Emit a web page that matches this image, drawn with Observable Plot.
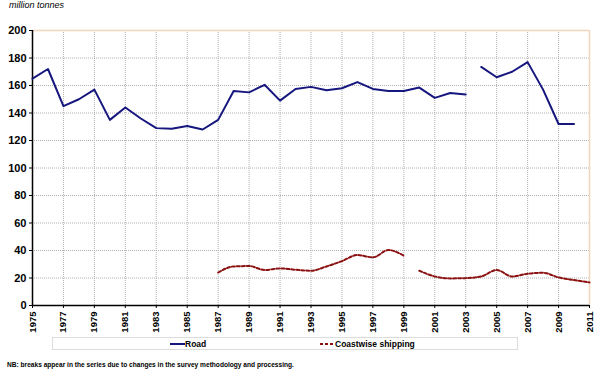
<!DOCTYPE html>
<html>
<head>
<meta charset="utf-8">
<script src="https://cdn.jsdelivr.net/npm/d3@7"></script>
<script src="https://cdn.jsdelivr.net/npm/@observablehq/plot@0.6"></script>
<style>
  html, body { margin: 0; padding: 0; background: #fff; }
  #wrap { position: relative; width: 602px; height: 379px; font-family: "Liberation Sans", Arial, sans-serif; overflow: hidden; }
  #wrap > svg { position: absolute; left: 0; top: 0; }
  .title { position: absolute; left: 9px; top: 0px; font-size: 9px; font-style: italic; color: #000; }
  .legend { position: absolute; left: 52px; top: 337px; width: 464px; height: 11px; border: 1px solid #dcdcdc; }
  .item { position: absolute; top: 0; height: 11px; display: flex; align-items: center; font-size: 8.5px; font-weight: bold; }
  .item svg { display: block; }
  .note { position: absolute; left: 7px; top: 361px; font-size: 6.6px; font-weight: bold; color: #000; white-space: nowrap; }
</style>
</head>
<body>
<div id="wrap">
  <div class="title">million tonnes</div>
  <div class="legend">
    <div class="item" style="left:117px"><svg width="15" height="4"><line x1="0" y1="2" x2="15" y2="2" stroke="#16167f" stroke-width="2"/></svg><span>Road</span></div>
    <div class="item" style="left:267px"><svg width="15" height="4"><line x1="0" y1="2" x2="15" y2="2" stroke="#8b1010" stroke-width="2" stroke-dasharray="3,2"/></svg><span>Coastwise shipping</span></div>
  </div>
  <div class="note">NB: breaks appear in the series due to changes in the survey methodology and processing.</div>
</div>
<script>
const roadYears = [1975,1976,1977,1978,1979,1980,1981,1982,1983,1984,1985,1986,1987,1988,1989,1990,1991,1992,1993,1994,1995,1996,1997,1998,1999,2000,2001,2002,2003,2004,2005,2006,2007,2008,2009,2010];
const roadValues = [165,172,145,150,157,135,144,136,129,128.5,130.5,128,135,156,155,160.5,149,157.5,159,156.5,158,162.5,157.5,156,156,158.5,151,154.5,153.5,173.5,166,170,177,157,132,132];
const roadBreakYears = [2004];

const coastYears = [1987,1988,1989,1990,1991,1992,1993,1994,1995,1996,1997,1998,1999,2000,2001,2002,2003,2004,2005,2006,2007,2008,2009,2010,2011];
const coastValues = [24,28.4,28.7,25.8,27,26,25.3,28.4,32.3,36.7,35,40.3,36.2,25.3,21.1,19.7,19.9,21.1,25.8,21.1,23.1,23.8,20.4,18.5,16.8];
const coastBreakYears = [2000];

const yTicks = [0,20,40,60,80,100,120,140,160,180,200];
const xTicks = [1975,1977,1979,1981,1983,1985,1987,1989,1991,1993,1995,1997,1999,2001,2003,2005,2007,2009,2011];

function segments(years, values, breaks) {
  return years.map((year, i) => ({year, value: values[i], seg: breaks.filter(b => year >= b).length}));
}
const road = segments(roadYears, roadValues, roadBreakYears);
const coast = segments(coastYears, coastValues, coastBreakYears);

const chart = Plot.plot({
  width: 602,
  height: 379,
  marginTop: 30,
  marginLeft: 32,
  marginRight: 13,
  marginBottom: 74,
  style: {fontFamily: "Liberation Sans, Arial, sans-serif", background: "transparent", overflow: "visible"},
  x: {domain: [1975, 2011]},
  y: {domain: [0, 200]},
  marks: [
    Plot.ruleX(xTicks.slice(1, -1), {stroke: "#b0b0b0", strokeDasharray: "1,1"}),
    Plot.ruleY(yTicks.slice(1, -1), {stroke: "#b0b0b0", strokeDasharray: "1,1"}),
    Plot.ruleY([200], {stroke: "#f0d6bc", strokeWidth: 1.5}),
    Plot.ruleX([2011], {stroke: "#f0d6bc", strokeWidth: 1.5}),
    Plot.axisY({ticks: yTicks, tickSize: 3, tickPadding: 3, fontSize: 11, fontWeight: "bold", label: null}),
    Plot.axisX({ticks: xTicks, tickFormat: "d", tickSize: 3, tickPadding: 3, tickRotate: -90, fontSize: 9.5, fontWeight: "bold", label: null}),
    Plot.ruleX([1975], {stroke: "#000", strokeWidth: 1.5}),
    Plot.ruleY([0], {stroke: "#000", strokeWidth: 1.5}),
    Plot.line(road, {x: "year", y: "value", z: "seg", stroke: "#16167f", strokeWidth: 2}),
    Plot.line(coast, {x: "year", y: "value", z: "seg", stroke: "#8b1010", strokeWidth: 2, strokeDasharray: "3,2", curve: "monotone-x"})
  ]
});
document.getElementById("wrap").prepend(chart);
</script>
</body>
</html>
